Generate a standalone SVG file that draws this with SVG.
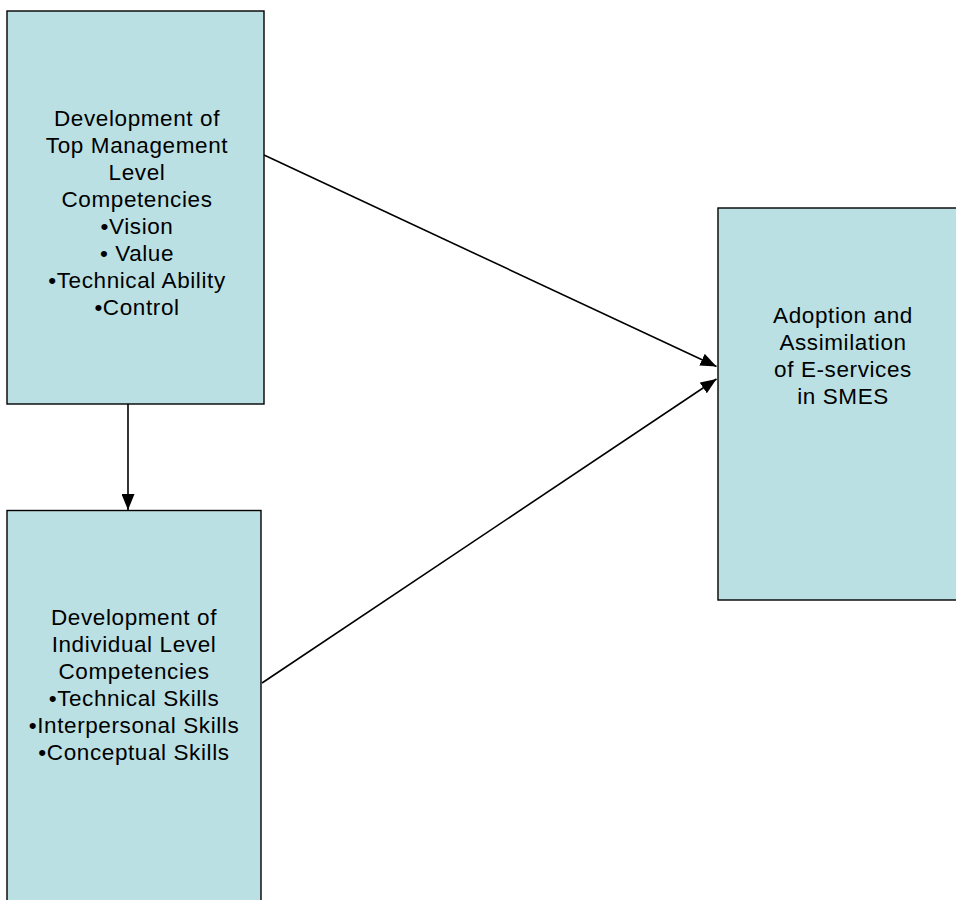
<svg xmlns="http://www.w3.org/2000/svg" width="956" height="900" viewBox="0 0 956 900">
<style>
.box{fill:#BBE0E3;stroke:#000;stroke-width:1.4}
.t{font-family:"Liberation Sans",Arial,sans-serif;font-size:22.5px;letter-spacing:0.6px;fill:#000;text-anchor:middle}
.c{stroke:#000;stroke-width:1.6;fill:none;marker-end:url(#ah)}
</style>
<defs>
<marker id="ah" markerUnits="userSpaceOnUse" markerWidth="16" markerHeight="13" viewBox="0 0 16 13" refX="16" refY="6.5" orient="auto">
<path d="M0,0 L16,6.5 L0,13 Z" fill="#000"/>
</marker>
</defs>
<rect width="956" height="900" fill="#fff"/>
<g id="connectors">
<line class="c" x1="264" y1="155" x2="716.5" y2="366.5"/>
<line class="c" x1="262" y1="683" x2="716.5" y2="379"/>
<line class="c" x1="128" y1="404" x2="128" y2="510"/>
</g>
<g id="top-management">
<rect class="box" x="7" y="11" width="257" height="393"/>
<text class="t" x="137" y="126">Development of</text>
<text class="t" x="137" y="153">Top Management</text>
<text class="t" x="137" y="180">Level</text>
<text class="t" x="137" y="207">Competencies</text>
<text class="t" x="137" y="234">•Vision</text>
<text class="t" x="137" y="261">• Value</text>
<text class="t" x="137" y="288">•Technical Ability</text>
<text class="t" x="137" y="315">•Control</text>
</g>
<g id="individual-level">
<rect class="box" x="7" y="510.5" width="254" height="400"/>
<text class="t" x="134" y="625">Development of</text>
<text class="t" x="134" y="652">Individual Level</text>
<text class="t" x="134" y="679">Competencies</text>
<text class="t" x="134" y="706">•Technical Skills</text>
<text class="t" x="134" y="733">•Interpersonal Skills</text>
<text class="t" x="134" y="760">•Conceptual Skills</text>
</g>
<g id="adoption">
<rect class="box" x="718" y="208" width="250" height="392"/>
<text class="t" x="843" y="323">Adoption and</text>
<text class="t" x="843" y="350">Assimilation</text>
<text class="t" x="843" y="377">of E-services</text>
<text class="t" x="843" y="404">in SMES</text>
</g>
</svg>
